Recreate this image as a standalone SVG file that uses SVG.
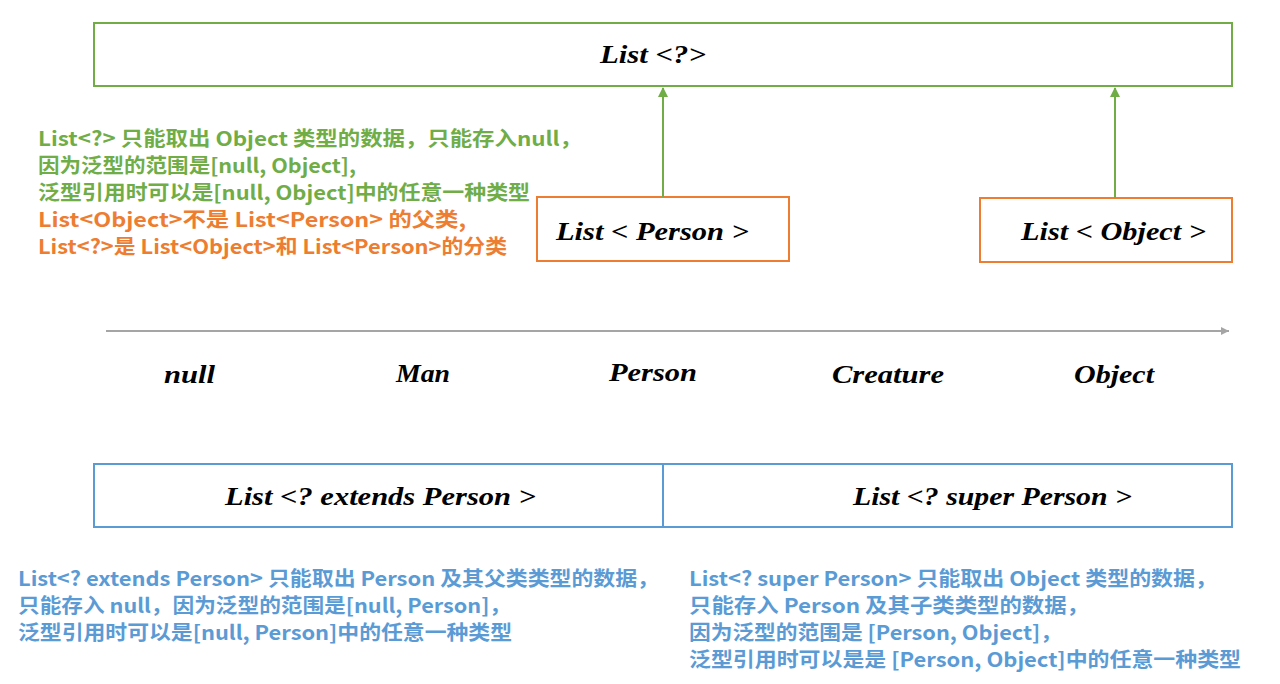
<svg xmlns="http://www.w3.org/2000/svg" width="1280" height="684" viewBox="0 0 1280 684">
<style>
.math{font-family:"Liberation Serif","DejaVu Serif",serif;font-style:italic;font-weight:bold;font-size:25px;fill:#000}
.note{font-family:"Noto Sans CJK SC","Noto Sans",sans-serif;font-weight:bold;font-size:20px}
.g{fill:#70AD47}
.o{fill:#ED7D31}
.b{fill:#5B9BD5}
.gbox{fill:#fff;stroke:#70AD47;stroke-width:2}
.obox{fill:#fff;stroke:#ED7D31;stroke-width:2}
.bbox{fill:#fff;stroke:#5B9BD5;stroke-width:2}
</style>
<defs>
<marker id="ga" markerWidth="10" markerHeight="10" refX="9" refY="5" orient="auto" markerUnits="userSpaceOnUse">
<path d="M0,0 L10,5 L0,10 z" fill="#70AD47"/>
</marker>
<marker id="ya" markerWidth="8" markerHeight="8" refX="8" refY="4" orient="auto" markerUnits="userSpaceOnUse">
<path d="M0,0 L8,4 L0,8 z" fill="#A5A5A5"/>
</marker>
</defs>
<rect width="1280" height="684" fill="#fff"/>
<g id="list-wildcard">
<rect class="gbox" x="94" y="23" width="1138" height="63"/>
<text class="math" x="600" y="63" textLength="106" lengthAdjust="spacingAndGlyphs">List &lt;?&gt;</text>
</g>
<g id="list-person">
<rect class="obox" x="537" y="197" width="252" height="64"/>
<text class="math" x="556" y="240" textLength="193" lengthAdjust="spacingAndGlyphs">List &lt; Person &gt;</text>
</g>
<g id="list-object">
<rect class="obox" x="980" y="198" width="252" height="64"/>
<text class="math" x="1021" y="240" textLength="185" lengthAdjust="spacingAndGlyphs">List &lt; Object &gt;</text>
</g>
<g id="list-extends">
<rect class="bbox" x="94" y="464" width="569" height="63"/>
<text class="math" x="225" y="505" textLength="311" lengthAdjust="spacingAndGlyphs">List &lt;? extends Person &gt;</text>
</g>
<g id="list-super">
<rect class="bbox" x="663" y="464" width="569" height="63"/>
<text class="math" x="853" y="505" textLength="279" lengthAdjust="spacingAndGlyphs">List &lt;? super Person &gt;</text>
</g>
<g id="axis-labels">
<text class="math" x="164" y="383" textLength="51" lengthAdjust="spacingAndGlyphs">null</text>
<text class="math" x="396" y="382" textLength="54" lengthAdjust="spacingAndGlyphs">Man</text>
<text class="math" x="609" y="381" textLength="88" lengthAdjust="spacingAndGlyphs">Person</text>
<text class="math" x="832" y="383" textLength="112" lengthAdjust="spacingAndGlyphs">Creature</text>
<text class="math" x="1074" y="383" textLength="80" lengthAdjust="spacingAndGlyphs">Object</text>
</g>
<g id="connectors">
<line x1="663" y1="197" x2="663" y2="88" stroke="#70AD47" stroke-width="2" marker-end="url(#ga)"/>
<line x1="1115" y1="198" x2="1115" y2="88" stroke="#70AD47" stroke-width="2" marker-end="url(#ga)"/>
<line x1="106" y1="331" x2="1229" y2="331" stroke="#A5A5A5" stroke-width="2" marker-end="url(#ya)"/>
</g>
<g id="note-top">
<text class="note g" x="38" y="146" textLength="544" lengthAdjust="spacingAndGlyphs">List&lt;?&gt; 只能取出 Object 类型的数据，只能存入null，</text>
<text class="note g" x="38" y="173" textLength="318" lengthAdjust="spacingAndGlyphs">因为泛型的范围是[null, Object],</text>
<text class="note g" x="38" y="200" textLength="492" lengthAdjust="spacingAndGlyphs">泛型引用时可以是[null, Object]中的任意一种类型</text>
<text class="note o" x="38" y="227" textLength="428" lengthAdjust="spacingAndGlyphs">List&lt;Object&gt;不是 List&lt;Person&gt; 的父类,</text>
<text class="note o" x="38" y="254" textLength="469" lengthAdjust="spacingAndGlyphs">List&lt;?&gt;是 List&lt;Object&gt;和 List&lt;Person&gt;的分类</text>
</g>
<g id="note-extends">
<text class="note b" x="18" y="586" textLength="641" lengthAdjust="spacingAndGlyphs">List&lt;? extends Person&gt; 只能取出 Person 及其父类类型的数据，</text>
<text class="note b" x="18" y="613" textLength="493" lengthAdjust="spacingAndGlyphs">只能存入 null，因为泛型的范围是[null, Person]，</text>
<text class="note b" x="18" y="640" textLength="494" lengthAdjust="spacingAndGlyphs">泛型引用时可以是[null, Person]中的任意一种类型</text>
</g>
<g id="note-super">
<text class="note b" x="689" y="586" textLength="528" lengthAdjust="spacingAndGlyphs">List&lt;? super Person&gt; 只能取出 Object 类型的数据，</text>
<text class="note b" x="689" y="613" textLength="400" lengthAdjust="spacingAndGlyphs">只能存入 Person 及其子类类型的数据，</text>
<text class="note b" x="689" y="640" textLength="373" lengthAdjust="spacingAndGlyphs">因为泛型的范围是 [Person, Object]，</text>
<text class="note b" x="689" y="667" textLength="552" lengthAdjust="spacingAndGlyphs">泛型引用时可以是是 [Person, Object]中的任意一种类型</text>
</g>
</svg>
